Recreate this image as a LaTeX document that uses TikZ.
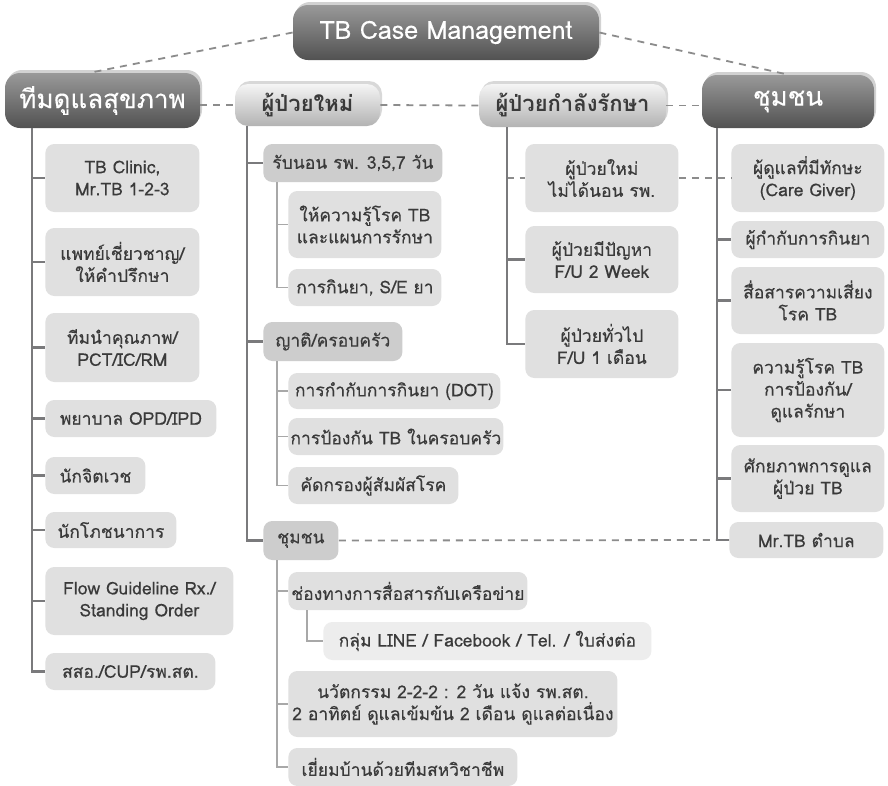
\documentclass[tikz,border=0pt]{standalone}
\usepackage{fontspec}
\setmainfont[Script=Thai]{Loma}
\newfontfamily\leaffont[Script=Thai,FakeBold=0.35]{Loma}
\newfontfamily\headfont[Script=Thai,FakeBold=0.25]{Loma}
\usetikzlibrary{shadows}

\tikzset{every picture/.style={line width=0.75pt}}
\definecolor{txtgray}{HTML}{3A3A3A}
\definecolor{leafgray}{HTML}{E0E0E0}
\definecolor{grpgray}{HTML}{CDCDCD}
\definecolor{palegray}{HTML}{EDEDED}
\definecolor{linegray}{HTML}{7A7A7C}
\definecolor{twiggray}{HTML}{A8A8A8}
\definecolor{dashgray}{HTML}{8C8C8C}

\tikzset{
  box/.style={rounded corners=9pt, inner sep=0pt, align=center, text=txtgray,
    font=\leaffont\fontsize{17.5}{22}\selectfont},
  darkbox/.style={box, rounded corners=15pt, top color=black!40, bottom color=black!68,
    text=white, font=\headfont\fontsize{26}{30}\selectfont,
    drop shadow={opacity=0.35, shadow xshift=2pt, shadow yshift=3pt}},
  lightbox/.style={box, rounded corners=13pt, top color=black!4, bottom color=black!30,
    font=\bfseries\fontsize{22}{26}\selectfont,
    drop shadow={opacity=0.3, shadow xshift=2pt, shadow yshift=3pt}},
  leaf/.style={box, fill=leafgray, anchor=west},
  grp/.style={box, fill=grpgray, anchor=west},
  pale/.style={box, fill=palegray, anchor=west},
  trunk/.style={draw=linegray, line width=2.2pt},
  twig/.style={draw=twiggray, line width=1.8pt},
  dashline/.style={draw=dashgray, line width=1.8pt, dash pattern={on 7pt off 6pt}}
}

\begin{document}
\begin{tikzpicture}[x=1pt,y=1pt,yscale=-1,xscale=1]
\useasboundingbox (0,0) rectangle (888,785);
\fill[white] (0,0) rectangle (888,785);

% Text Node
\node[darkbox, minimum width=306pt, minimum height=55pt, font=\headfont\fontsize{25}{29}\selectfont] (root) at (446,32.5) {TB Case Management};
\node[darkbox, minimum width=195pt, minimum height=55pt] (team) at (102.5,100.5) {ทีมดูแลสุขภาพ};
\node[lightbox, minimum width=145pt, minimum height=42pt] (newpt) at (307.5,105) {ผู้ป่วยใหม่};
\node[lightbox, minimum width=187pt, minimum height=43pt] (treat) at (572.5,105.5) {ผู้ป่วยกำลังรักษา};
\node[darkbox, minimum width=172pt, minimum height=53pt] (comm) at (788,101.5) {ชุมชน};

% Text Node
\node[leaf, minimum width=154pt, minimum height=68pt] (l1) at (45,178) {TB Clinic,\\Mr.TB 1-2-3};
\node[leaf, minimum width=154pt, minimum height=68pt] (l2) at (45,262) {แพทย์เชี่ยวชาญ/\\ให้คำปรึกษา};
\node[leaf, minimum width=154pt, minimum height=69pt] (l3) at (45,347.5) {ทีมนำคุณภาพ/\\PCT/IC/RM};
\node[leaf, minimum width=171pt, minimum height=37pt] (l4) at (45,418.5) {พยาบาล OPD/IPD};
\node[leaf, minimum width=100pt, minimum height=37pt] (l5) at (45,475.5) {นักจิตเวช};
\node[leaf, minimum width=131pt, minimum height=36pt] (l6) at (45,530) {นักโภชนาการ};
\node[leaf, minimum width=188pt, minimum height=68pt] (l7) at (45,601) {Flow Guideline Rx./\\Standing Order};
\node[leaf, minimum width=170pt, minimum height=37pt] (l8) at (45,671.5) {สสอ./CUP/รพ.สต.};

% Text Node
\node[grp, minimum width=179pt, minimum height=38pt] (g1) at (263,163) {รับนอน รพ. 3,5,7 วัน};
\node[leaf, minimum width=153pt, minimum height=67pt] (m1) at (288,224.5) {ให้ความรู้โรค TB\\และแผนการรักษา};
\node[leaf, minimum width=153pt, minimum height=37pt] (m2) at (288,287.5) {การกินยา, S/E ยา};
\node[grp, minimum width=139pt, minimum height=39pt] (g2) at (263,341.5) {ญาติ/ครอบครัว};
\node[leaf, minimum width=212pt, minimum height=36pt] (m3) at (288,391) {การกำกับการกินยา (DOT)};
\node[leaf, minimum width=215pt, minimum height=37pt] (m4) at (288,436.5) {การป้องกัน TB ในครอบครัว};
\node[leaf, minimum width=170pt, minimum height=37pt] (m5) at (288,485.5) {คัดกรองผู้สัมผัสโรค};
\node[grp, minimum width=75pt, minimum height=39pt] (g3) at (263,540.5) {ชุมชน};
\node[leaf, minimum width=239pt, minimum height=38pt] (m6) at (288,591) {ช่องทางการสื่อสารกับเครือข่าย};
\node[pale, minimum width=328pt, minimum height=38pt] (m7) at (323,641) {กลุ่ม LINE / Facebook / Tel. / ใบส่งต่อ};
\node[leaf, minimum width=329pt, minimum height=66pt] (m8) at (288,704) {นวัตกรรม 2-2-2 : 2 วัน แจ้ง รพ.สต.\\2 อาทิตย์ ดูแลเข้มข้น 2 เดือน ดูแลต่อเนื่อง};
\node[leaf, minimum width=229pt, minimum height=38pt] (m9) at (288,767) {เยี่ยมบ้านด้วยทีมสหวิชาชีพ};

% Text Node
\node[leaf, minimum width=153pt, minimum height=68pt] (t1) at (525,178) {ผู้ป่วยใหม่\\ไม่ได้นอน รพ.};
\node[leaf, minimum width=153pt, minimum height=67pt] (t2) at (525,259.5) {ผู้ป่วยมีปัญหา\\F/U 2 Week};
\node[leaf, minimum width=153pt, minimum height=68pt] (t3) at (525,344) {ผู้ป่วยทั่วไป\\F/U 1 เดือน};

% Text Node
\node[leaf, minimum width=153pt, minimum height=68pt] (r1) at (731,178) {ผู้ดูแลที่มีทักษะ\\(Care Giver)};
\node[leaf, minimum width=153pt, minimum height=37pt] (r2) at (731,239.5) {ผู้กำกับการกินยา};
\node[leaf, minimum width=153pt, minimum height=67pt] (r3) at (731,300.5) {สื่อสารความเสี่ยง\\โรค TB};
\node[leaf, minimum width=153pt, minimum height=94pt] (r4) at (731,390) {ความรู้โรค TB\\การป้องกัน/\\ดูแลรักษา};
\node[leaf, minimum width=153pt, minimum height=67pt] (r5) at (731,478.5) {ศักยภาพการดูแล\\ผู้ป่วย TB};
\node[leaf, minimum width=154pt, minimum height=36pt] (r6) at (729,540) {Mr.TB ตำบล};

\coordinate (tA) at ([xshift=27pt]team.south west);
\coordinate (tB) at ([xshift=12pt]newpt.south west);
\coordinate (tB1) at ([xshift=14pt]g1.south west);
\coordinate (tB2) at ([xshift=14pt]g2.south west);
\coordinate (tB3) at ([xshift=14pt]g3.south west);
\coordinate (tB4) at ([xshift=19pt]m6.south west);
\coordinate (tC) at ([xshift=28pt]treat.south west);
\coordinate (tD) at ([xshift=15pt]comm.south west);

%Straight Lines
\draw[dashline] (root.west) -- ([xshift=-12pt]team.north);
\draw[dashline] (root.east) -- (comm.north);
\draw[dashline] (team.east |- newpt.west) -- (newpt.west);
\draw[dashline] (newpt.east) -- (treat.west);
\draw[dashline] (treat.east) -- (treat.east -| comm.west);
\draw[dashline] (t1.west -| tC) -- (t1.west);
\draw[dashline] (t1.east) -- (r1.west);
\draw[dashline] (g3.east) -- (r6.west);

%Straight Lines
\foreach \n in {l1,l2,l3,l4,l5,l6,l7}
  \draw[trunk] (\n.west -| tA) -- (\n.west);
\draw[trunk] (tA) |- (l8.west);
\draw[trunk] (g1.west -| tB) -- (g1.west);
\draw[trunk] (g2.west -| tB) -- (g2.west);
\draw[trunk] (tB) |- (g3.west);
\draw[twig] (m1.west -| tB1) -- (m1.west);
\draw[twig] (tB1) |- (m2.west);
\draw[twig] (m3.west -| tB2) -- (m3.west);
\draw[twig] (m4.west -| tB2) -- (m4.west);
\draw[twig] (tB2) |- (m5.west);
\draw[twig] (m6.west -| tB3) -- (m6.west);
\draw[twig] (m8.west -| tB3) -- (m8.west);
\draw[twig] (tB3) |- (m9.west);
\draw[twig] (tB4) |- (m7.west);
\draw[trunk] (t2.west -| tC) -- (t2.west);
\draw[trunk] (tC) |- (t3.west);
\foreach \n in {r2,r3,r4,r5}
  \draw[trunk] (\n.west -| tD) -- (\n.west);
\draw[trunk] (tD) |- (r6.west);

\end{tikzpicture}
\end{document}
